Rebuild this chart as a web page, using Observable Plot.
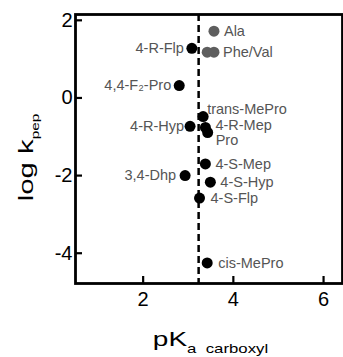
<!DOCTYPE html>
<html><head><meta charset="utf-8">
<script src="https://cdn.jsdelivr.net/npm/d3@7"></script>
<script src="https://cdn.jsdelivr.net/npm/@observablehq/plot@0.6"></script>
<style>
body{margin:0;background:#fff}
#chart svg text.pt{letter-spacing:0.8px}
</style>
</head><body><div id="chart"></div>
<script>
// ---- data ----
const compounds = ["Ala","Phe","Val","4-R-Flp","4,4-F2-Pro","trans-MePro","4-R-Hyp","4-R-Mep","Pro","4-S-Mep","3,4-Dhp","4-S-Hyp","4-S-Flp","cis-MePro"];
const pKa      = [3.57, 3.42, 3.57, 3.08, 2.80, 3.33, 3.04, 3.38, 3.43, 3.38, 2.93, 3.49, 3.25, 3.42];
const logKpep  = [1.72, 1.18, 1.18, 1.28, 0.32, -0.48, -0.73, -0.76, -0.89, -1.70, -2.00, -2.17, -2.58, -4.25];
const isNatural = [true, true, true, false, false, false, false, false, false, false, false, false, false, false];
const labels   = ["Ala","","Phe/Val","4-R-Flp","4,4-F₂-Pro","trans-MePro","4-R-Hyp","4-R-Mep","Pro","4-S-Mep","3,4-Dhp","4-S-Hyp","4-S-Flp","cis-MePro"];
const pKaRef = 3.23;
const xTicks = [2, 4, 6];
const yTicks = [-4, -2, 0, 2];

// ---- label layout (side and pixel offsets) ----
const labelSide = ["right","right","right","left","left","right","left","right","right","right","left","right","right","right"];
const labelDx   = [10, 0, 9, -8, -8, 4, -6, 10, 8, 10, -9, 10, 11, 11];
const labelDy   = [0, 0, 0, 0, 0, -7, 0, -2, 8, 0, 0, 0, 0, 0];

const rows = compounds.map((c, i) => ({
  c, x: pKa[i], y: logKpep[i], nat: isNatural[i], label: labels[i],
  side: labelSide[i], dx: labelDx[i], dy: labelDy[i]
}));

const W = 343, H = 357, mL = 75, mR = 1, mT = 14, mB = 74;
const font = "'Liberation Sans', Arial, Helvetica, sans-serif";

const labelMarks = rows.filter(d => d.label).map(d =>
  Plot.text([d], {x: "x", y: "y", text: "label", textAnchor: d.side === "left" ? "end" : "start",
    dx: d.dx, dy: d.dy, fontSize: 14.5, fill: "#555", className: "pt"})
);

const fmt = d => String(d);

const chart = Plot.plot({
  width: W, height: H, marginLeft: mL, marginRight: mR, marginTop: mT, marginBottom: mB,
  style: {fontFamily: font, background: "#fff", color: "#000"},
  x: {domain: [0.5, 6.42]},
  y: {domain: [-4.78, 2.15]},
  marks: [
    Plot.ruleX([pKaRef], {stroke: "#000", strokeWidth: 2.5, strokeDasharray: "7,4"}),
    Plot.axisX({ticks: xTicks, tickFormat: fmt, tickSize: -7, tickPadding: 15, fontSize: 20, label: null, strokeWidth: 2.2}),
    Plot.axisY({ticks: yTicks, tickFormat: fmt, tickSize: -7, tickPadding: 10, fontSize: 20, label: null, strokeWidth: 2.2}),
    Plot.dot(rows, {x: "x", y: "y", r: 5.5, fill: d => d.nat ? "#5e5e5e" : "#000", stroke: "none"}),
    ...labelMarks,
    Plot.frame({stroke: "#000", strokeWidth: 2.8})
  ]
});
document.getElementById("chart").append(chart);

// axis titles with subscripts
const svg = d3.select(chart);
const plotCx = mL + (W - mL - mR) / 2;
const plotCy = mT + (H - mT - mB) / 2;
const xl = svg.append("text")
  .attr("transform", `translate(${plotCx + 2},346) scale(1.4,1)`)
  .attr("text-anchor", "middle").attr("font-family", font).attr("fill", "#000");
xl.append("tspan").attr("font-size", 20).text("pK");
xl.append("tspan").attr("font-size", 12).attr("dy", 7).text("a  carboxyl");

const yl = svg.append("text")
  .attr("transform", `translate(33,${plotCy + 9}) rotate(-90) scale(1.4,1)`)
  .attr("text-anchor", "middle").attr("font-family", font).attr("fill", "#000");
yl.append("tspan").attr("font-size", 21).text("log k");
yl.append("tspan").attr("font-size", 11).attr("dy", 6).text("pep");
</script>
</body></html>
